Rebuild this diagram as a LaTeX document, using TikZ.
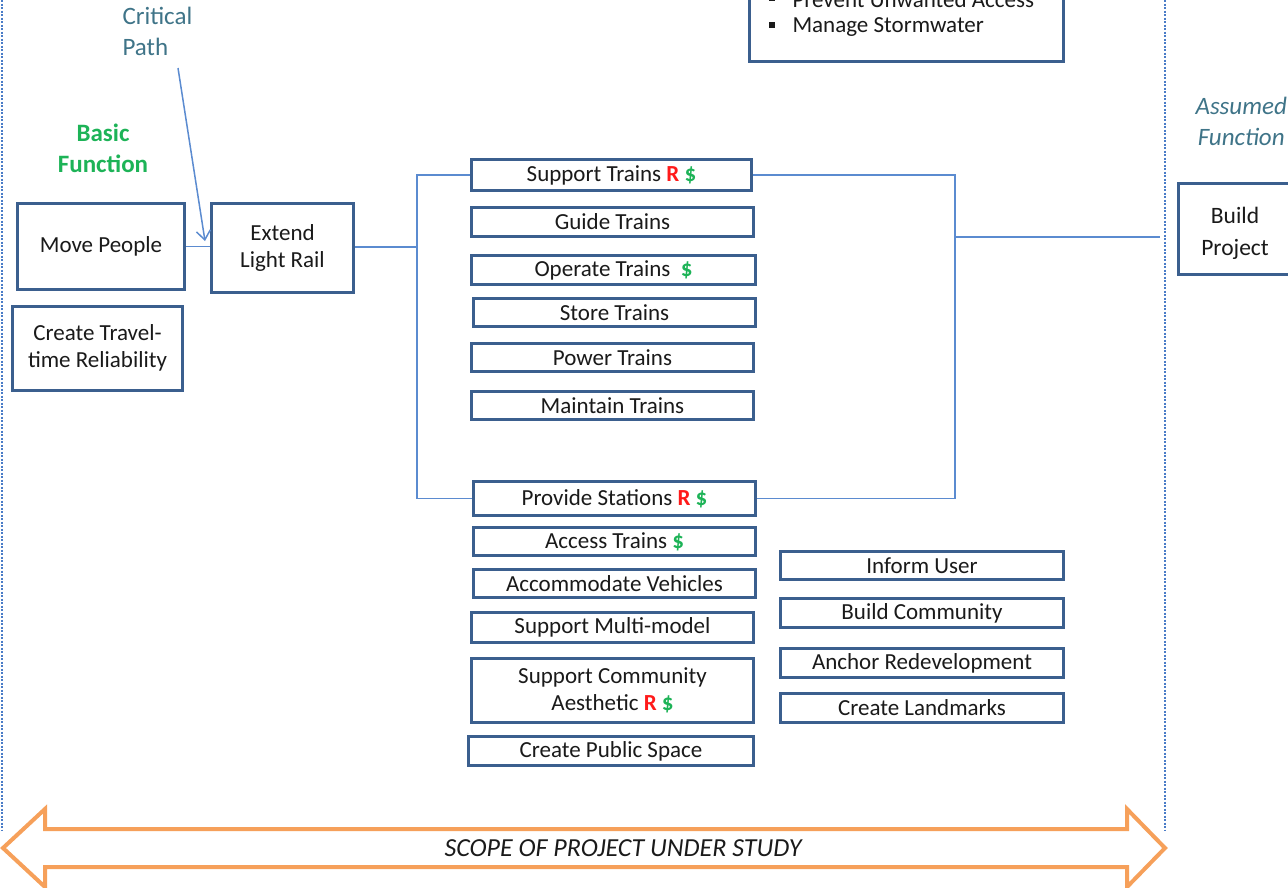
\documentclass[tikz,border=0pt]{standalone}
\usepackage{fontspec}
\setmainfont{Carlito}
\usetikzlibrary{arrows.meta}

\definecolor{boxblue}{HTML}{3B5F8E}
\definecolor{linkblue}{HTML}{5B8BD0}
\definecolor{dashblue}{HTML}{4A7CC7}
\definecolor{tealtext}{HTML}{3F7488}
\definecolor{fgreen}{HTML}{1DB357}
\definecolor{rred}{HTML}{FF1A1A}
\definecolor{scopeorange}{HTML}{F6A05A}
\definecolor{inktext}{HTML}{1A1A1A}

% risk and cost markers
\newcommand{\Rmk}{\textcolor{rred}{\textbf{R}}}
\newcommand{\Dmk}{\textcolor{fgreen}{\textbf{\$}}}
\newcommand{\sqbullet}{\raisebox{4pt}{\rule{6pt}{6pt}}}

\begin{document}
\begin{tikzpicture}[x=1pt, y=-1pt,
  fnbox/.style={draw=boxblue, line width=3pt, fill=white, inner sep=0pt,
    align=center, text=inktext, font=\fontsize{23}{27}\selectfont},
  link/.style={draw=linkblue, line width=1.5pt},
  scopeline/.style={draw=dashblue, line width=1.3pt, dash pattern=on 2pt off 1.5pt},
  tag/.style={align=center, font=\fontsize{25}{31}\selectfont},
  plain/.style={anchor=west, text=inktext, font=\fontsize{23}{27}\selectfont},
]
\useasboundingbox (0,0) rectangle (1288,887);
\clip (0,0) rectangle (1288,887);

% scope boundaries
\draw[scopeline] (2,0) -- (2,830);
\draw[scopeline] (1165,0) -- (1165,830);

% objectives box (top)
\node[fnbox, minimum width=314pt, minimum height=139pt] (obj) at (906.5,-8.5) {};
\node[plain] (b1) at (765,0) {\sqbullet};
\node[plain] (t1) at (789,0) {Prevent Unwanted Access};
\node[plain] (b2) at (765,27) {\sqbullet};
\node[plain] (t2) at (789,27) {Manage Stormwater};

% labels
\node[tag, text=tealtext, align=left, anchor=west] (cp) at (119,31) {Critical\\Path};
\node[tag, text=fgreen, font=\fontsize{25}{31}\selectfont\bfseries] (bf) at (103,148) {Basic\\Function};
\node[tag, text=tealtext, font=\fontsize{25}{31}\selectfont\itshape, anchor=west] (af) at (1192,121) {Assumed\\Function};

% left column
\node[fnbox, minimum width=167pt, minimum height=86pt] (mp) at (101,246.5) {Move People};
\node[fnbox, minimum width=170pt, minimum height=84pt] (ctr) at (97.5,348) {Create Travel-\\time Reliability};
\node[fnbox, minimum width=142pt, minimum height=89pt] (elr) at (282.5,248) {Extend\\Light Rail};

% train functions
\node[fnbox, minimum width=280pt, minimum height=31pt] (st) at (611.5,175) {Support Trains \Rmk\ \Dmk};
\node[fnbox, minimum width=282pt, minimum height=29pt] (gt) at (612.5,222) {Guide Trains};
\node[fnbox, minimum width=284pt, minimum height=29pt] (ot) at (613.5,270) {Operate Trains \ \Dmk};
\node[fnbox, minimum width=282pt, minimum height=28pt] (sto) at (614.5,312.5) {Store Trains};
\node[fnbox, minimum width=282pt, minimum height=28pt] (pt) at (612.5,357.5) {Power Trains};
\node[fnbox, minimum width=282pt, minimum height=28pt] (mt) at (612.5,405.5) {Maintain Trains};

% station functions
\node[fnbox, minimum width=282pt, minimum height=34pt] (ps) at (614.5,498.5) {Provide Stations \Rmk\ \Dmk};
\node[fnbox, minimum width=282pt, minimum height=28pt] (at) at (614.5,541.5) {Access Trains \Dmk};
\node[fnbox, minimum width=282pt, minimum height=28pt] (av) at (614.5,583.5) {Accommodate Vehicles};
\node[fnbox, minimum width=282pt, minimum height=30pt] (smm) at (612.5,627.5) {Support Multi-model};
\node[fnbox, minimum width=282pt, minimum height=64pt] (sca) at (612.5,690.5) {Support Community\\Aesthetic \Rmk\ \Dmk};
\node[fnbox, minimum width=285pt, minimum height=29pt] (cps) at (611,751) {Create Public Space};

% community functions
\node[fnbox, minimum width=283pt, minimum height=28pt] (iu) at (922,565.5) {Inform User};
\node[fnbox, minimum width=283pt, minimum height=29pt] (bc) at (922,613) {Build Community};
\node[fnbox, minimum width=283pt, minimum height=29pt] (ar) at (922,663) {Anchor Redevelopment};
\node[fnbox, minimum width=283pt, minimum height=29pt] (cl) at (922,708) {Create Landmarks};

% outside scope
\node[fnbox, minimum width=113pt, minimum height=91pt] (bp) at (1235,229) {};
\node[align=center, text=inktext, font=\fontsize{23.5}{32}\selectfont, yshift=-4pt] (bpt) at (bp.center) {Build\\Project};

% connectors
\coordinate (busL) at (417,247);
\coordinate (busR) at (955,237);
\coordinate (bpIn) at (1160,237);
\coordinate (cpEnd) at (205,241);
\coordinate (cpStart) at (178,68);

\draw[link] (mp.east) -- (mp.east -| elr.west);
\draw[link] (elr.east |- busL) -- (busL);
\draw[link] (st.west) -- (st.west -| busL) -- (ps.west -| busL) -- (ps.west);
\draw[link] (st.east) -- (st.east -| busR) -- (ps.east -| busR) -- (ps.east);
\draw[link] (busR) -- (bpIn);
\draw[link, -{Straight Barb[length=9pt,width=14pt,line width=1.5pt]}] (cpStart) -- (cpEnd);

% scope arrow
\draw[draw=scopeorange, line width=4pt, fill=white, line join=miter]
  (3,848) -- (45,809) -- (45,829) -- (1127,829) -- (1127,809) -- (1165,848)
  -- (1127,887) -- (1127,867) -- (45,867) -- (45,887) -- cycle;
\node[text=inktext, font=\fontsize{26}{30}\selectfont\itshape] (scope) at (623,848) {SCOPE OF PROJECT UNDER STUDY};
\end{tikzpicture}
\end{document}
